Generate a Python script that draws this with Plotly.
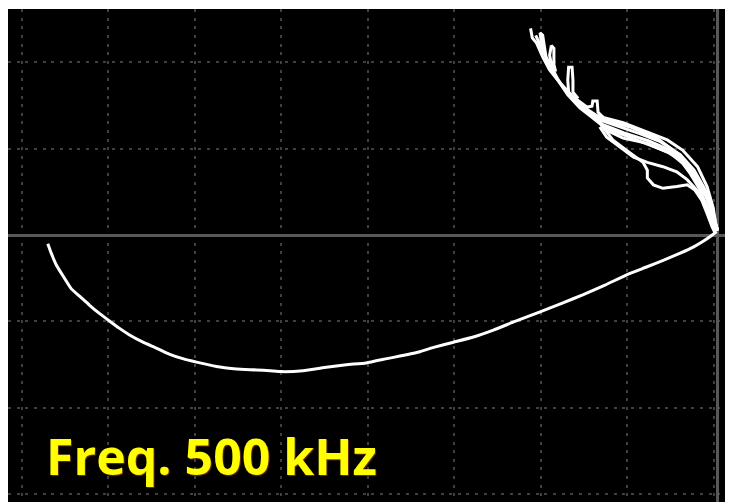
import plotly.graph_objects as go

# Main (lower) impedance-plane trace, in screen divisions (origin = crosshair)
main_x = [-7.74, -7.70, -7.64, -7.56, -7.47, -7.37, -7.26, -7.14, -7.02, -6.91, -6.79, -6.64,
          -6.48, -6.33, -6.18, -6.02, -5.79, -5.56, -5.33, -5.17, -5.04, -4.79, -4.52, -4.29,
          -4.06, -3.82, -3.67, -3.44, -3.28, -3.05, -2.82, -2.59, -2.34, -2.05, -1.80, -1.55,
          -1.30, -1.05, -0.82, -0.62, -0.43, -0.28, -0.16, -0.06, -0.01]
main_y = [-0.10, -0.21, -0.35, -0.48, -0.62, -0.71, -0.81, -0.91, -1.00, -1.08, -1.16, -1.24,
          -1.31, -1.38, -1.43, -1.47, -1.52, -1.55, -1.56, -1.57, -1.58, -1.57, -1.53, -1.50,
          -1.48, -1.43, -1.40, -1.35, -1.30, -1.24, -1.18, -1.10, -1.00, -0.89, -0.79, -0.69,
          -0.58, -0.46, -0.37, -0.29, -0.21, -0.14, -0.07, 0.00, 0.04]

# Upper bundle of signal strands
s1_x = [0.00, -0.02, -0.05, -0.12, -0.23, -0.40, -0.58, -0.81, -1.09, -1.32, -1.38, -1.39, -1.44, -1.45,
        -1.51, -1.67, -1.82, -1.94, -2.02, -2.09, -2.14, -2.16]
s1_y = [0.05, 0.13, 0.32, 0.56, 0.79, 0.98, 1.10, 1.19, 1.30, 1.36, 1.42, 1.55, 1.55, 1.49,
        1.48, 1.60, 1.76, 1.91, 2.06, 2.22, 2.28, 2.39]
s2_x = [0.00, -0.04, -0.08, -0.18, -0.29, -0.42, -0.57, -0.80, -1.08, -1.33, -1.47, -1.61, -1.76,
        -1.88, -1.96, -2.02, -2.04, -2.05, -2.02, -2.00, -1.98]
s2_y = [0.05, 0.15, 0.35, 0.54, 0.73, 0.88, 0.99, 1.09, 1.18, 1.28, 1.40, 1.52, 1.68,
        1.85, 2.02, 2.14, 2.26, 2.34, 2.31, 2.20, 2.05]
s3_x = [0.00, -0.03, -0.07, -0.14, -0.26, -0.39, -0.55, -0.78, -1.03, -1.30, -1.45, -1.59, -1.73,
        -1.84, -1.91, -1.94, -1.92, -1.89, -1.89, -1.87]
s3_y = [0.05, 0.08, 0.29, 0.46, 0.66, 0.82, 0.95, 1.04, 1.13, 1.24, 1.36, 1.47, 1.62,
        1.79, 1.93, 2.08, 2.19, 2.16, 1.97, 1.89]
s4_x = [0.00, -0.05, -0.12, -0.20, -0.32, -0.43, -0.58, -0.81, -1.09, -1.28, -1.38, -1.53, -1.65,
        -1.72, -1.73, -1.72, -1.68, -1.67, -1.67, -1.61]
s4_y = [0.05, 0.14, 0.32, 0.52, 0.72, 0.87, 0.96, 1.06, 1.12, 1.21, 1.33, 1.45, 1.56,
        1.65, 1.79, 1.94, 1.94, 1.79, 1.65, 1.58]
s5_x = [-0.03, -0.06, -0.12, -0.18, -0.26, -0.35, -0.47, -0.63, -0.74, -0.81, -0.81, -0.86, -1.01,
        -1.21, -1.36, -1.47, -1.53]
s5_y = [0.03, 0.09, 0.25, 0.40, 0.52, 0.58, 0.56, 0.54, 0.58, 0.66, 0.75, 0.84, 0.95,
        1.10, 1.30, 1.41, 1.47]
s6_x = [0.00, -0.06, -0.14, -0.23, -0.35, -0.47, -0.63, -0.81, -0.97, -1.13, -1.28, -1.36]
s6_y = [0.07, 0.20, 0.37, 0.51, 0.64, 0.73, 0.79, 0.84, 0.90, 1.02, 1.13, 1.25]
s7_x = [0.00, -0.05, -0.12, -0.22, -0.35, -0.51, -0.70, -1.01, -1.24, -1.41, -1.53]
s7_y = [0.06, 0.23, 0.44, 0.64, 0.79, 0.98, 1.12, 1.25, 1.31, 1.39, 1.47]
s8_x = [0.00, -0.03, -0.07, -0.15, -0.27, -0.43, -0.66, -0.89, -1.13, -1.36, -1.51, -1.65, -1.78,
        -1.90, -1.98, -2.05, -2.10]
s8_y = [0.05, 0.17, 0.35, 0.54, 0.75, 0.93, 1.08, 1.17, 1.25, 1.33, 1.45, 1.56, 1.70,
        1.87, 2.05, 2.20, 2.31]

label_text = "Freq. 500 kHz"

fig = go.Figure()
fig.add_trace(go.Scatter(x=main_x, y=main_y, mode="lines",
                         line=dict(color="white", width=3, shape="spline", smoothing=0.4),
                         hoverinfo="skip"))
for sx, sy in [(s1_x, s1_y), (s2_x, s2_y), (s3_x, s3_y), (s4_x, s4_y),
               (s5_x, s5_y), (s6_x, s6_y), (s7_x, s7_y), (s8_x, s8_y)]:
    fig.add_trace(go.Scatter(x=sx, y=sy, mode="lines",
                             line=dict(color="white", width=3),
                             hoverinfo="skip"))

axis_common = dict(showticklabels=False, ticks="", showline=False,
                   showgrid=True, gridcolor="#404040", gridwidth=2,
                   griddash="3px,5.65px", dtick=1,
                   zeroline=True, zerolinecolor="#585858", zerolinewidth=3,
                   fixedrange=True)

fig.update_layout(
    width=725, height=494,
    margin=dict(l=0, r=0, t=1, b=0),
    paper_bgcolor="white", plot_bgcolor="black",
    showlegend=False,
    xaxis=dict(range=[-8.20, 0.18], tick0=-0.042, **axis_common),
    yaxis=dict(range=[-3.088, 2.614], tick0=0, **axis_common),
    annotations=[dict(text=label_text, xref="paper", yref="paper",
                      x=0.049, y=0.093, xanchor="left", yanchor="middle",
                      showarrow=False,
                      font=dict(family="Open Sans", size=50, color="#ffff00",
                                weight="bold", shadow="1px 1px 1px #6b3000"))],
)

fig.write_html("out.html")
